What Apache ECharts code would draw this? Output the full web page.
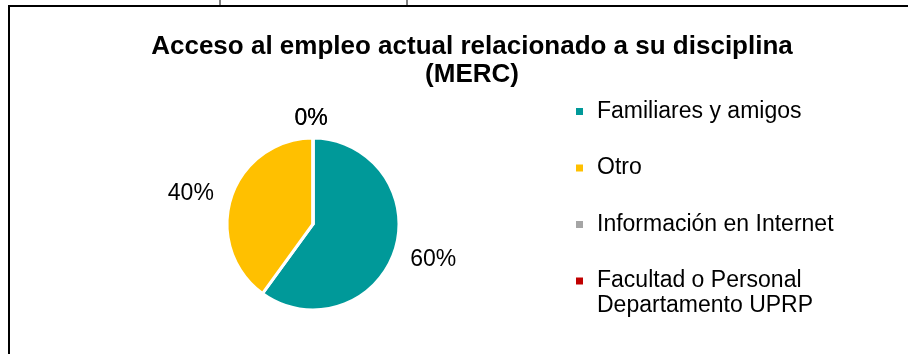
<!DOCTYPE html>
<html>
<head>
<meta charset="utf-8">
<script src="https://cdn.jsdelivr.net/npm/echarts@6/dist/echarts.min.js"></script>
<style>
  html, body { margin: 0; padding: 0; background: #fff; }
  #chart { width: 908px; height: 354px; }
</style>
</head>
<body>
<div id="chart"></div>
<script>
// Ways graduates found a job related to their discipline (MERC)
const titleLines = ['Acceso al empleo actual relacionado a su disciplina', '(MERC)'];
const categories = ['Familiares y amigos', 'Otro', 'Información en Internet', 'Facultad o Personal\nDepartamento UPRP'];
const percentages = [60, 40, 0, 0];
const sliceColors = ['#009999', '#FFC000', '#A5A5A5', '#C00000'];

const FONT = '"Liberation Sans", Arial, sans-serif';
const LEGEND_LEFT = 576;
const LEGEND_TOP = 99.5;
const LEGEND_ROW = 24;
const LEGEND_GAP = 32.5;
const LEGEND_TEXT_X = LEGEND_LEFT + 7 + 5 + 9;

const chart = echarts.init(document.getElementById('chart'), null, { renderer: 'canvas' });

// Entries that wrap show their first line in the legend; the continuation
// lines are set beneath it as plain text.
const wrapText = [];
categories.forEach(function (name, i) {
  const lines = name.split('\n');
  for (let k = 1; k < lines.length; k++) {
    wrapText.push({
      type: 'text',
      silent: true,
      x: LEGEND_TEXT_X,
      y: LEGEND_TOP + i * (LEGEND_ROW + LEGEND_GAP) + LEGEND_ROW / 2 + k * 25,
      style: {
        text: lines[k],
        fontFamily: FONT,
        fontSize: 23,
        fill: '#000',
        verticalAlign: 'middle'
      }
    });
  }
});

chart.setOption({
  backgroundColor: '#ffffff',
  animation: false,
  color: sliceColors,
  title: {
    text: titleLines.join('\n'),
    left: 472,
    top: 33,
    padding: 0,
    textAlign: 'center',
    textStyle: {
      fontFamily: FONT,
      fontSize: 26,
      fontWeight: 'bold',
      color: '#000',
      lineHeight: 28
    }
  },
  legend: {
    orient: 'vertical',
    left: LEGEND_LEFT,
    top: LEGEND_TOP,
    padding: 0,
    icon: 'rect',
    itemWidth: 7,
    itemHeight: 7,
    itemGap: LEGEND_GAP,
    selectedMode: false,
    itemStyle: { borderWidth: 0 },
    data: categories,
    formatter: function (name) { return name.split('\n')[0]; },
    textStyle: {
      fontFamily: FONT,
      fontSize: 23,
      color: '#000',
      lineHeight: LEGEND_ROW,
      padding: [0, 0, 0, 9]
    }
  },
  graphic: [
    {
      type: 'rect',
      silent: true,
      shape: { x: 9, y: 6, width: 1000, height: 500 },
      style: { fill: 'none', stroke: '#000', lineWidth: 2 }
    },
    {
      type: 'line',
      silent: true,
      shape: { x1: 220, y1: 0, x2: 220, y2: 6 },
      style: { stroke: '#000', lineWidth: 1 }
    },
    {
      type: 'line',
      silent: true,
      shape: { x1: 407, y1: 0, x2: 407, y2: 6 },
      style: { stroke: '#000', lineWidth: 1 }
    }
  ].concat(wrapText),
  series: [
    {
      type: 'pie',
      center: [313, 224],
      radius: 86,
      startAngle: 90,
      clockwise: true,
      avoidLabelOverlap: false,
      minShowLabelAngle: 0,
      itemStyle: { borderColor: '#ffffff', borderWidth: 3 },
      label: {
        show: true,
        position: 'outside',
        formatter: '{c}%',
        fontFamily: FONT,
        fontSize: 23,
        color: '#000'
      },
      labelLine: { show: false, length: 13, length2: 0 },
      labelLayout: function (params) {
        const v = percentages[params.dataIndex];
        if (v === 0) {
          return { align: 'center', dx: 3, dy: -6 };
        }
        if (v > 50) {
          return { dx: -2, dy: 5 };
        }
        return {};
      },
      emphasis: { disabled: true },
      data: categories.map(function (name, i) {
        return { name: name, value: percentages[i] };
      })
    }
  ]
});
</script>
</body>
</html>
